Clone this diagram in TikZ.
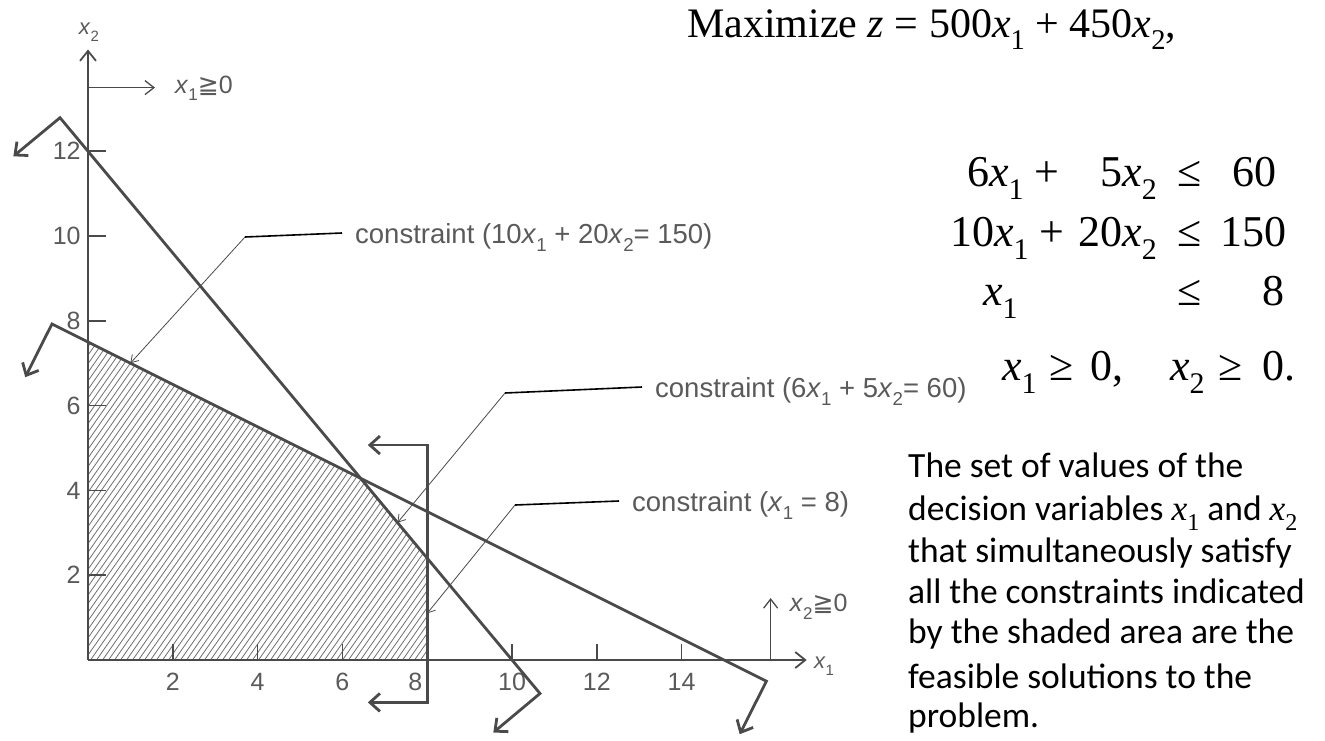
\documentclass[tikz,border=0pt]{standalone}
\usepackage{fontspec}
\setmainfont{Liberation Serif}
\newfontfamily\labf{Liberation Sans}
\newfontfamily\parf{Carlito}
\newfontfamily\djv{DejaVu Sans}
\usepackage{graphicx}
\usetikzlibrary{arrows.meta}
\definecolor{ink}{HTML}{4A4A4A}
\definecolor{labc}{HTML}{5A5A5A}
\definecolor{hatchc}{HTML}{707070}
\newcommand\tsub[1]{\raisebox{-0.3em}{\scalebox{0.68}{#1}}}
\newcommand\ix{\textit{x}}
\newcommand\mx{{\rmfamily\itshape x}}
\tikzset{
  gline/.style={draw=ink, line width=2.8pt, line join=miter},
  axisln/.style={draw=ink, line width=1.8pt},
  nnln/.style={draw=ink, line width=1.3pt, -{Straight Barb[length=9pt,width=14pt]}},
  tickln/.style={draw=ink, line width=1.5pt},
  hatchln/.style={draw=hatchc, line width=0.8pt},
  leadk/.style={draw=black, line width=1.6pt},
  leadt/.style={draw=ink, line width=0.8pt, -{Straight Barb[length=7pt,width=9pt]}},
  glab/.style={text=labc, font=\labf\fontsize{25}{25}\selectfont, inner sep=0pt},
  clab/.style={text=labc, font=\labf\fontsize{27.5}{27.5}\selectfont, inner sep=0pt, anchor=base west},
  eqt/.style={text=black, font=\fontsize{44}{44}\selectfont, inner sep=0pt, anchor=base east},
  ptxt/.style={text=black, font=\parf\fontsize{35.5}{35.5}\selectfont, inner sep=0pt, anchor=base west},
  >={Straight Barb[length=10pt,width=18pt]}
}
\begin{document}
\begin{tikzpicture}[x=1pt,y=-1pt]
\useasboundingbox (0,0) rectangle (1325,740);
\fill[white] (0,0) rectangle (1325,740);

\begin{scope}[shift={(88,660)},x=42.4pt,y=42.4pt]
  \coordinate (O) at (0,0);
  % feasible region hatching
  \begin{scope}
    \clip (0,0) -- (8,0) -- (8,2.4) -- (6.4286,4.2857) -- (0,7.5) -- cycle;
    \foreach \s in {0,...,98} \draw[hatchln] ({-5.6+0.1415*\s},0) -- ++(55:10);
  \end{scope}
  % axes
  \draw[axisln,-{Straight Barb[length=10pt,width=16pt]}] (O) -- (0,14.4) coordinate (ytop);
  \node[glab, font=\labf\fontsize{22}{22}\selectfont] (x2name) at (0.02,14.8) {\ix\tsub{2}};
  \draw[axisln,-{Straight Barb[length=10pt,width=16pt]}] (O) -- (16.95,0) coordinate (xend);
  \node[glab, font=\labf\fontsize{22}{22}\selectfont, anchor=west] (x1name) at (17.12,-0.15) {\ix\tsub{1}};
  % ticks
  \foreach \v in {2,4,...,12} {
    \draw[tickln] (0,\v) -- (0.42,\v);
    \node[glab,anchor=east] (yl\v) at (-0.17,\v) {\v};
  }
  \foreach \v in {2,4,6,10,12,14} {
    \draw[tickln] (\v,0) -- (\v,0.38);
    \node[glab] (xl\v) at (\v,-0.52) {\v};
  }
  \node[glab] (xl8) at (7.72,-0.52) {8};
  % constraint lines
  \draw[gline,<->] (-1.76,11.88) -- (-0.66,12.79) -- (10.66,-0.79) -- (9.56,-1.71);
  \draw[gline,<->] (-1.48,6.67) -- (-0.85,7.925) -- (16.0,-0.5) -- (15.37,-1.75);
  \draw[gline,<->] (6.6,5.07) -- (8,5.07) -- (8,-1.0) -- (6.6,-1.0);
  % non-negativity
  \draw[nnln] (0,13.5) -- (1.58,13.5);
  \node[glab,anchor=west] (nn1) at (2.05,13.49) {\ix\tsub{1}{\djv ≧}0};
  \draw[nnln] (16.1,0) -- (16.1,1.46);
  \node[glab,anchor=west] (nn2) at (16.55,1.25) {\ix\tsub{2}{\djv ≧}0};
  % leader tips
  \coordinate (t1) at (1.0,7.0);
  \coordinate (t2) at (7.3,3.24);
  \coordinate (t3) at (8.0,1.1);
\end{scope}

% constraint labels with leaders
\node[clab] (lab1) at (355,243) {constraint (10\ix\tsub{1} + 20\ix\tsub{2}= 150)};
\node[clab] (lab2) at (655,397) {constraint (6\ix\tsub{1} + 5\ix\tsub{2}= 60)};
\node[clab] (lab3) at (632,511) {constraint (\ix\tsub{1} = 8)};
\coordinate (k1) at (245,237);
\coordinate (k2) at (505,393);
\coordinate (k3) at (515,505);
\draw[leadk] (k1) -- ([xshift=-13pt,yshift=10pt]lab1.base west);
\draw[leadk] (k2) -- ([xshift=-13pt,yshift=10pt]lab2.base west);
\draw[leadk] (k3) -- ([xshift=-13pt,yshift=10pt]lab3.base west);
\draw[leadt] (k1) -- (t1);
\draw[leadt] (k2) -- (t2);
\draw[leadt] (k3) -- (t3);

% objective and constraints
\node[anchor=base west, font=\fontsize{42}{42}\selectfont, inner sep=0pt] (obj) at (687,37)
  {Maximize \textit{z} = 500\ix\tsub{1} + 450\ix\tsub{2},};
\node[eqt,anchor=base west] (r1a) at (967,186) {6\ix\tsub{1} +};
\node[eqt] (r1b) at (1157,186) {5\ix\tsub{2}};
\node[eqt,anchor=base] (r1c) at (1190,186) {≤};
\node[eqt] (r1d) at (1277,186) {60};
\node[eqt,anchor=base west] (r2a) at (950,246) {10\ix\tsub{1} +};
\node[eqt] (r2b) at (1157,246) {20\ix\tsub{2}};
\node[eqt,anchor=base] (r2c) at (1190,246) {≤};
\node[eqt] (r2d) at (1287,246) {150};
\node[eqt,anchor=base west] (r3a) at (983,305) {\ix\tsub{1}};
\node[eqt,anchor=base] (r3c) at (1190,305) {≤};
\node[eqt] (r3d) at (1285,305) {8};
\node[eqt,anchor=base west] (r4a) at (1002,380) {\ix\tsub{1}};
\node[eqt,anchor=base] (r4b) at (1062,380) {≥};
\node[eqt,anchor=base west] (r4c) at (1090,380) {0,};
\node[eqt,anchor=base west] (r4d) at (1170,380) {\ix\tsub{2}};
\node[eqt,anchor=base] (r4e) at (1231,380) {≥};
\node[eqt,anchor=base west] (r4f) at (1262,380) {0.};

% explanation
\node[ptxt] (p1) at (908,477) {The set of values of the};
\node[ptxt] (p2) at (908,520) {decision variables \mx\tsub{\rmfamily 1} and \mx\tsub{\rmfamily 2}};
\node[ptxt] (p3) at (908,562) {that simultaneously satisfy};
\node[ptxt] (p4) at (908,603) {all the constraints indicated};
\node[ptxt] (p5) at (908,643) {by the shaded area are the};
\node[ptxt] (p6) at (908,688) {feasible solutions to the};
\node[ptxt] (p7) at (908,727) {problem.};
\end{tikzpicture}
\end{document}
